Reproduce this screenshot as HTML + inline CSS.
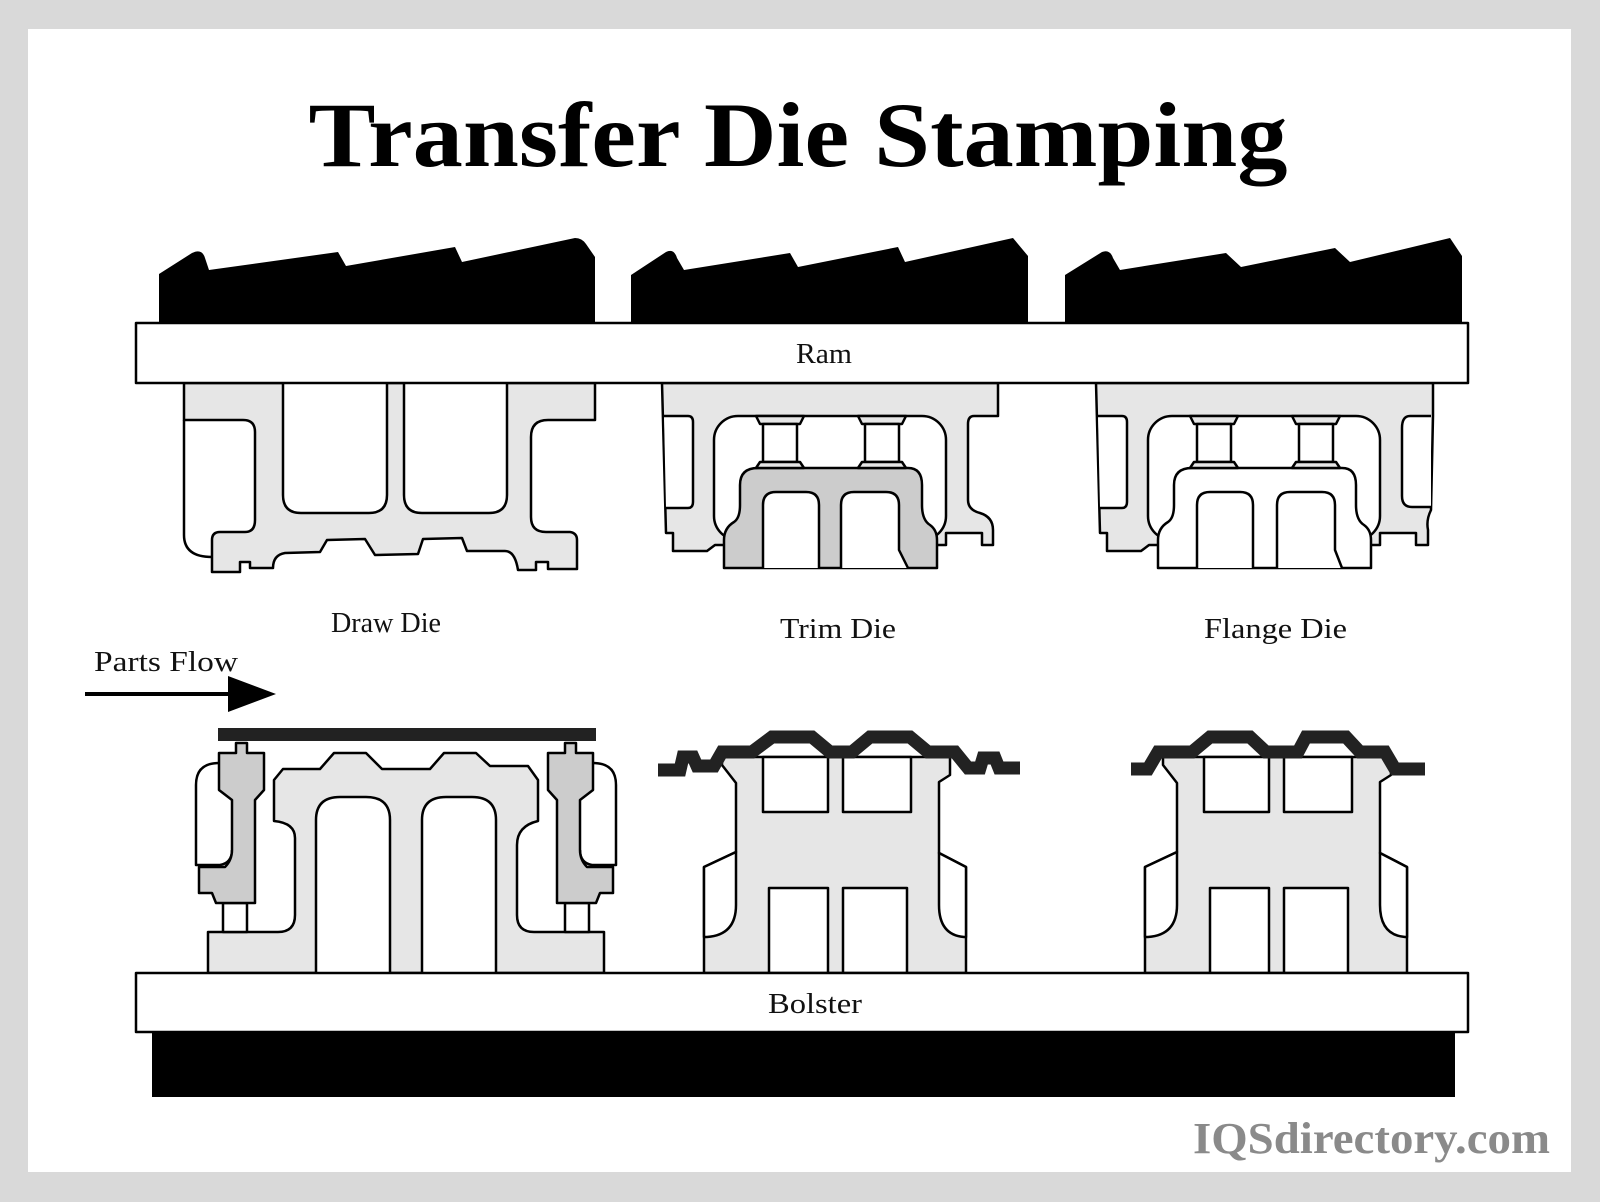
<!DOCTYPE html>
<html><head><meta charset="utf-8"><style>
html,body{margin:0;padding:0;background:#d9d9d9}
svg{display:block}
text{font-family:"Liberation Serif",serif}
</style></head><body>
<svg width="1600" height="1202" viewBox="0 0 1600 1202" xmlns="http://www.w3.org/2000/svg">
<rect x="0" y="0" width="1600" height="1202" fill="#d9d9d9"/>
<rect x="28" y="29" width="1543" height="1143" fill="#fff"/>
<text x="798" y="166" font-size="92" font-weight="bold" text-anchor="middle" textLength="979" lengthAdjust="spacingAndGlyphs">Transfer Die Stamping</text>

<g fill="#000">
<path d="M159,323 L159,274 L192,253 Q202,248 205,258 L209,270 L338,252 L346,266 L455,247 L462,262 L575,238 Q582,238 586,244 L595,257 L595,323 Z"/>
<path d="M631,323 L631,275 L666,252 Q674,248 677,258 L684,270 L790,253 L798,267 L898,247 L905,262 L1013,238 L1028,256 L1028,323 Z"/>
<path d="M1065,323 L1065,275 L1102,252 Q1110,249 1113,258 L1120,270 L1226,253 L1241,267 L1335,248 L1350,262 L1450,238 L1462,256 L1462,323 Z"/>
</g>

<g stroke="#000" stroke-width="2.5" stroke-linejoin="round">
<path fill="#e6e6e6" d="M184,383 L595,383 L595,420 L548,420 Q531,420 531,437 L531,517 Q531,532 546,532 L570,532 Q577,533 577,540 L577,569 L548,569 L548,562 L536,562 L536,570 L518,570 Q515,551 505,551 L467,551 L462,538 L423,539 L418,554 L375,555 L365,539 L327,540 L320,552 L285,553 Q273,555 273,568 L250,568 L250,562 L240,562 L240,572 L212,572 L212,540 Q212,532 220,532 L245,532 Q255,532 255,520 L255,432 Q255,420 243,420 L184,420 Z"/>
<path fill="none" d="M184,420 L184,535 Q184,557 212,557"/>
<path fill="#fff" d="M283,383 L283,495 Q283,513 301,513 L369,513 Q387,513 387,495 L387,383"/>
<path fill="#fff" d="M404,383 L404,495 Q404,513 422,513 L489,513 Q507,513 507,495 L507,383"/>

<path fill="#e6e6e6" d="M662,383 L998,383 L998,416 L974,416 Q968,416 968,424 L968,500 Q968,510 980,513 Q993,517 993,530 L993,545 L982,545 L982,533 L946,533 L946,545 L715,545 L707,551 L673,551 L673,533 L666,533 Z"/>
<path fill="#fff" d="M664,416 L688,416 Q693,416 693,422 L693,502 Q693,508 688,508 L666,508"/>
<rect x="714" y="416" width="232" height="124" rx="24" fill="#fff"/>
<path fill="#ccc" d="M724,568 L724,540 Q724,528 734,522 Q740,518 740,505 L740,485 Q740,468 758,468 L908,468 Q922,468 922,485 L922,505 Q922,520 930,525 Q937,530 937,540 L937,568 Z"/>
<path fill="#fff" d="M763,568 L763,505 Q763,492 776,492 L806,492 Q819,492 819,505 L819,568"/>
<path fill="#fff" d="M841,568 L841,505 Q841,492 854,492 L886,492 Q899,492 899,505 L899,550 L908,568"/>
<g fill="#e6e6e6">
<polygon points="756,416 804,416 800,424 760,424"/><rect x="763" y="424" width="34" height="38" fill="#fff"/><polygon points="760,462 800,462 804,468 756,468"/>
<polygon points="858,416 906,416 902,424 862,424"/><rect x="865" y="424" width="34" height="38" fill="#fff"/><polygon points="862,462 902,462 906,468 858,468"/>
</g>

<path fill="#e6e6e6" d="M1096,383 L1433,383 L1433,416 L1431,510 Q1426,520 1428,530 L1428,545 L1416,545 L1416,533 L1380,533 L1380,545 L1149,545 L1141,551 L1107,551 L1107,533 L1100,533 Z"/>
<path fill="#fff" d="M1098,416 L1122,416 Q1127,416 1127,422 L1127,502 Q1127,508 1122,508 L1100,508"/>
<path fill="#fff" d="M1431,416 L1410,416 Q1402,416 1402,428 L1402,496 Q1402,507 1412,507 L1431,507"/>
<rect x="1148" y="416" width="232" height="124" rx="24" fill="#fff"/>
<path fill="#fff" d="M1158,568 L1158,540 Q1158,528 1168,522 Q1174,518 1174,505 L1174,485 Q1174,468 1192,468 L1342,468 Q1356,468 1356,485 L1356,505 Q1356,520 1364,525 Q1371,530 1371,540 L1371,568 Z"/>
<path fill="#fff" d="M1197,568 L1197,505 Q1197,492 1210,492 L1240,492 Q1253,492 1253,505 L1253,568"/>
<path fill="#fff" d="M1277,568 L1277,505 Q1277,492 1290,492 L1322,492 Q1335,492 1335,505 L1335,550 L1342,568"/>
<g fill="#e6e6e6">
<polygon points="1190,416 1238,416 1234,424 1194,424"/><rect x="1197" y="424" width="34" height="38" fill="#fff"/><polygon points="1194,462 1234,462 1238,468 1190,468"/>
<polygon points="1292,416 1340,416 1336,424 1296,424"/><rect x="1299" y="424" width="34" height="38" fill="#fff"/><polygon points="1296,462 1336,462 1340,468 1292,468"/>
</g>

<rect x="136" y="323" width="1332" height="60" fill="#fff"/>

<path fill="#e6e6e6" d="M208,973 L208,932 L278,932 Q295,932 295,915 L295,838 Q295,823 274,821 L274,780 L283,769 L320,769 L334,753 L366,753 L382,769 L430,769 L444,753 L476,753 L490,766 L528,766 L538,780 L538,821 Q517,826 517,845 L517,915 Q517,932 534,932 L604,932 L604,973 Z"/>
<path fill="#fff" d="M316,973 L316,820 Q316,797 340,797 L366,797 Q390,797 390,820 L390,973"/>
<path fill="#fff" d="M422,973 L422,820 Q422,797 446,797 L472,797 Q496,797 496,820 L496,973"/>
<g id="pin">
<path fill="none" d="M219,763 Q196,763 196,785 L196,865 L220,865 Q232,863 232,850"/>
<rect x="223" y="903" width="24" height="29" fill="#fff"/>
<path fill="#ccc" d="M219,790 L219,753 L236,753 L236,743 L247,743 L247,753 L264,753 L264,790 L255,800 L255,903 L216,903 L212,893 L199,893 L199,867 L225,867 Q232,860 232,850 L232,800 Z"/>
</g>
<use href="#pin" transform="translate(812,0) scale(-1,1)"/>

<g id="lower">
<path fill="#e6e6e6" d="M704,973 L704,867 L736,852 L736,783 L722,765 L722,757 L950,757 L950,775 L939,782 L939,853 L966,867 L966,973 Z"/>
<path fill="#fff" d="M704,867 L736,852 L736,905 Q736,935 707,937 L704,937 Z"/>
<path fill="#fff" d="M966,867 L939,853 L939,905 Q939,935 964,937 L966,937 Z"/>
<rect x="763" y="757" width="65" height="55" fill="#fff"/>
<rect x="843" y="757" width="68" height="55" fill="#fff"/>
<rect x="769" y="888" width="59" height="85" fill="#fff"/>
<rect x="843" y="888" width="64" height="85" fill="#fff"/>
</g>
<use href="#lower" transform="translate(441,0)"/>

<rect x="136" y="973" width="1332" height="59" fill="#fff"/>
</g>
<rect x="152" y="1032" width="1303" height="65" fill="#000"/>

<rect x="218" y="728" width="378" height="13" fill="#222"/>
<path fill="none" stroke="#222" stroke-width="13" stroke-linejoin="miter" d="M658,770 L680,770 L683,757 L693,757 L697,766 L714,766 L722,752 L752,752 L772,737 L812,737 L830,752 L852,752 L870,737 L910,737 L928,752 L955,752 L968,768 L980,768 L983,758 L995,758 L999,768 L1020,768"/>
<path fill="none" stroke="#222" stroke-width="13" stroke-linejoin="miter" d="M1131,769 L1148,769 L1158,752 L1192,752 L1210,737 L1250,737 L1266,752 L1298,752 L1306,737 L1346,737 L1360,752 L1385,752 L1395,769 L1425,769"/>

<line x1="85" y1="694" x2="240" y2="694" stroke="#000" stroke-width="4"/>
<polygon points="228,676 276,694 228,712" fill="#000"/>

<g font-size="28" fill="#111">
<text x="796" y="363" textLength="56" lengthAdjust="spacingAndGlyphs">Ram</text>
<text x="331" y="632" textLength="110" lengthAdjust="spacingAndGlyphs">Draw Die</text>
<text x="780" y="638" textLength="116" lengthAdjust="spacingAndGlyphs">Trim Die</text>
<text x="1204" y="638" textLength="143" lengthAdjust="spacingAndGlyphs">Flange Die</text>
<text x="768" y="1013" textLength="94" lengthAdjust="spacingAndGlyphs">Bolster</text>
<text x="94" y="671" textLength="144" lengthAdjust="spacingAndGlyphs">Parts Flow</text>
</g>
<text x="1193" y="1153" font-size="44" font-weight="bold" fill="#8a8a8a" textLength="357" lengthAdjust="spacingAndGlyphs">IQSdirectory.com</text>
</svg>
</body></html>
